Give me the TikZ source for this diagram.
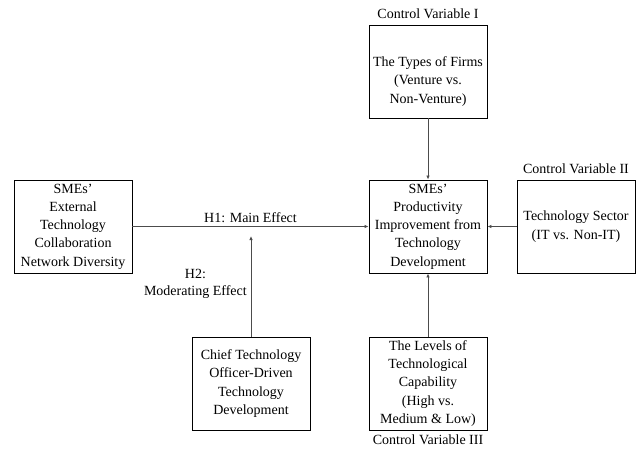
\documentclass[tikz,border=0pt]{standalone}
\usepackage{fontspec}
\setmainfont{Liberation Serif}
\usetikzlibrary{arrows.meta,positioning}

\tikzset{
  varbox/.style={draw, line width=0.9pt, minimum width=118pt, minimum height=93pt,
    align=center, inner sep=2pt, font=\fontsize{14}{18.3}\selectfont},
  effect/.style={draw=black!70, line width=0.8pt, -{Latex[length=4pt,width=3.5pt]}},
  caption/.style={font=\fontsize{14}{17}\selectfont, inner sep=1pt}
}

\begin{document}
\begin{tikzpicture}[x=1pt,y=-1pt]
  \path[use as bounding box] (0,0) rectangle (637,450);

  % variables
  \node[varbox] (ext) at (73,226.5) {SMEs’\\External\\Technology\\Collaboration\\Network Diversity};
  \node[varbox] (prod) at (428,226.5) {SMEs’\\Productivity\\Improvement from\\Technology\\Development};
  \node[varbox, text height=66pt] (types) at (428,71.5) {The Types of Firms\\(Venture vs.\\Non-Venture)};
  \node[varbox] (sector) at (576,226.5) {Technology Sector\\(IT vs. Non-IT)};
  \node[varbox] (cto) at (251,383.5) {Chief Technology\\Officer-Driven\\Technology\\Development};
  \node[varbox] (levels) at (428,383.5) {The Levels of\\Technological\\Capability\\(High vs.\\Medium \& Low)};

  % control labels
  \node[caption, above=5pt of types] (ctrlone) {Control Variable I};
  \node[caption, above=5pt of sector] (ctrltwo) {Control Variable II};
  \node[caption, below=3pt of levels] (ctrlthree) {Control Variable III};

  % effects
  \draw[effect] (ext) -- (prod) node[midway, above, caption, inner sep=3pt] {H1: Main Effect};
  \coordinate (meet) at (251,236);
  \draw[effect] (cto.north) -- (meet);
  \node[caption, align=center, anchor=east] (h2) at (248,284) {H2:\\Moderating Effect};

  \draw[effect] (types) -- (prod);
  \draw[effect] (sector) -- (prod);
  \draw[effect] (levels) -- (prod);
\end{tikzpicture}
\end{document}
